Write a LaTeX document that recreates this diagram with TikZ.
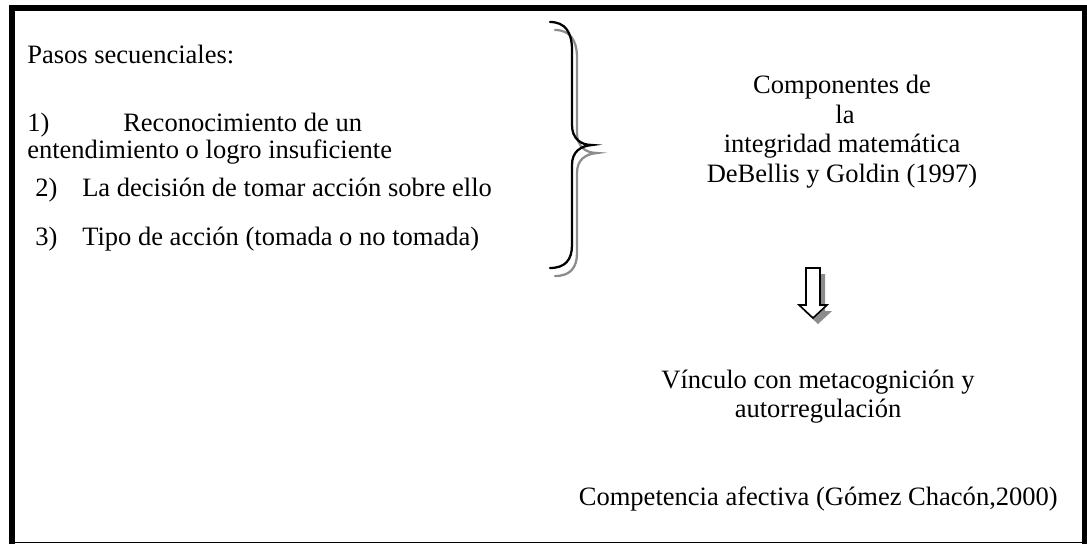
\documentclass[tikz,border=0pt]{standalone}
\usepackage{fontspec}
\setmainfont{Liberation Serif}
\usepackage{tikz}

\begin{document}
\begin{tikzpicture}[x=0.75pt,y=-0.75pt,
 txt/.style={inner sep=0pt, font=\fontsize{19.9}{24}\selectfont},
 lft/.style={txt, anchor=base west},
 mid/.style={txt, anchor=base},
 brc/.style={line width=1.7pt, line cap=round},
 shd/.style={black!45}]

  \useasboundingbox (0,0) rectangle (1087,544);

  % frame
  \draw[line width=4.5pt] (12,544) -- (12,8) -- (1084.5,8) -- (1084.5,544);
  \draw[line width=1pt] (12,542.5) -- (1084.5,542.5);

  % left column
  \node[lft] (pasos) at (27,63) {Pasos secuenciales:};
  \node[lft] (n1) at (27,131) {1)};
  \node[lft] (p1) at (123,131) {Reconocimiento de un};
  \node[lft] (p1b) at (27,158) {entendimiento o logro insuficiente};
  \node[lft] (n2) at (35,196) {2)};
  \node[lft] (p2) at (82,196) {La decisión de tomar acción sobre ello};
  \node[lft] (n3) at (35,245) {3)};
  \node[lft] (p3) at (82,245) {Tipo de acción (tomada o no tomada)};

  % brace with its shadow
  \foreach \dx/\dy/\col in {5/8/shd, 0/0/black}
   \draw[brc, \col, shift={(\dx,\dy)}] (550,22) .. controls (565,22) and (572,32) .. (572,50)
     -- (572,125) .. controls (572,138) and (580,145) .. (592,145)
     .. controls (580,146) and (572,152) .. (572,165)
     -- (572,245) .. controls (572,260) and (565,268) .. (550,268);

  % right column
  \node[mid] (comp) at (842,93) {Componentes de};
  \node[mid] (la) at (845,123) {la};
  \node[mid] (integ) at (842,152) {integridad matemática};
  \node[mid] (debel) at (842,182) {DeBellis y Goldin (1997)};

  % hollow arrow with shadow
  \fill[shd, shift={(5,6)}] (806,268) -- (820,268) -- (820,305) -- (827,305) -- (813,318)
     -- (799,305) -- (806,305) -- cycle;
  \draw[fill=white, line width=1.2pt] (806,268) -- (820,268) -- (820,305) -- (827,305) -- (813,318)
     -- (799,305) -- (806,305) -- cycle;

  \node[mid] (vinc) at (818,388) {Vínculo con metacognición y};
  \node[mid] (auto) at (818,417) {autorregulación};
  \node[txt, anchor=base east] (afect) at (1058,505) {Competencia afectiva (Gómez Chacón,2000)};
\end{tikzpicture}
\end{document}
